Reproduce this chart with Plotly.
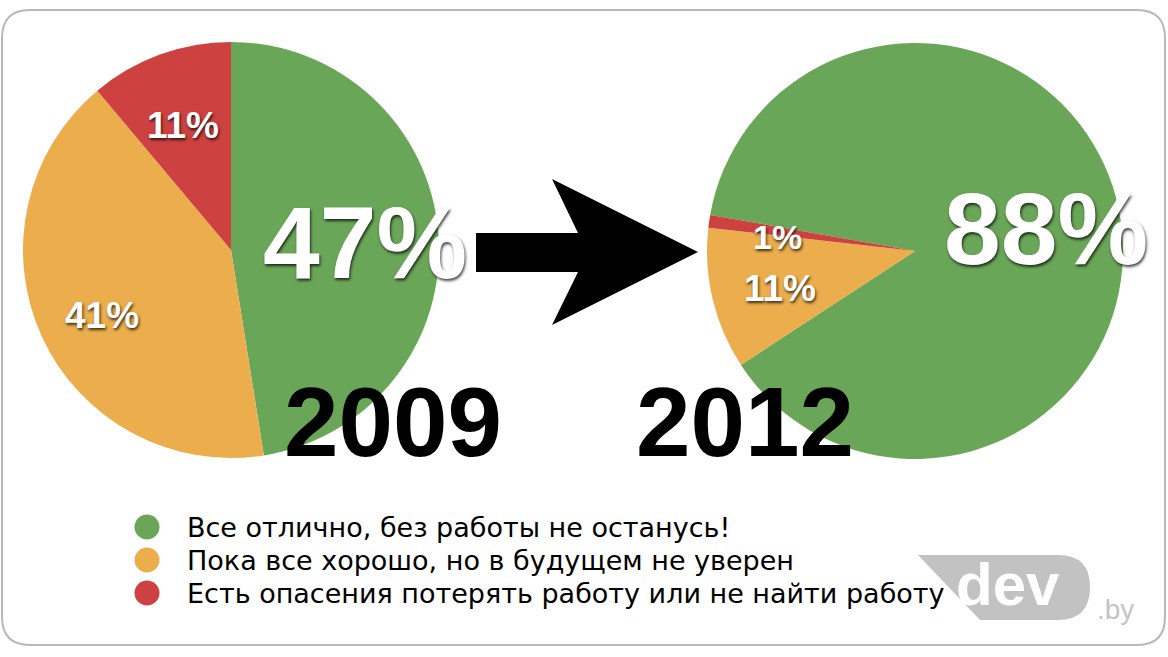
import plotly.graph_objects as go

# Data
categories = [
    "Все отлично, без работы не останусь!",
    "Пока все хорошо, но в будущем не уверен",
    "Есть опасения потерять работу или не найти работу",
]
years = ["2009", "2012"]
share_2009 = [47, 41, 11]
share_2012 = [88, 11, 1]
colors = ["#6aa658", "#ecae4d", "#cd4240"]

W, H = 1168, 657

fig = go.Figure()

# pies (domain in paper coords)
fig.add_trace(go.Pie(
    labels=categories, values=share_2009, sort=False, direction="clockwise",
    rotation=0, marker=dict(colors=colors), textinfo="none",
    showlegend=False, hoverinfo="label+percent",
    domain=dict(x=[23 / W, 439 / W], y=[(H - 458) / H, (H - 42) / H]),
))
fig.add_trace(go.Pie(
    labels=categories, values=share_2012, sort=False, direction="clockwise",
    rotation=-80, marker=dict(colors=colors), textinfo="none",
    showlegend=False, hoverinfo="label+percent",
    domain=dict(x=[707 / W, 1123 / W], y=[(H - 459) / H, (H - 43) / H]),
))

# legend rows (drawn by hand so the spacing matches)
legend_x, legend_text_x = 147, 185
legend_rows = [527, 560, 593]
fig.add_trace(go.Scatter(
    x=[legend_x] * len(categories), y=legend_rows, mode="markers",
    marker=dict(color=colors, size=25), showlegend=False, hoverinfo="skip",
))

# label positions / sizes per slice (pixel coords)
label_pos_2009 = [(365, 243, 102), (102, 315, 37), (183, 125, 37)]
label_pos_2012 = [(1046, 229, 102), (780, 288, 37), (777, 237, 34)]

shadow = "1px 2px 3px rgba(0,0,0,0.75)"
annotations = []
for vals, pos in [(share_2009, label_pos_2009), (share_2012, label_pos_2012)]:
    for v, (x, y, s) in zip(vals, pos):
        annotations.append(dict(
            x=x, y=y, xref="x", yref="y", text=f"{v}%", showarrow=False,
            font=dict(family="Liberation Sans, Arial", size=s, color="white",
                      weight="bold", shadow=shadow),
        ))

for name, y in zip(categories, legend_rows):
    annotations.append(dict(
        x=legend_text_x, y=y, xref="x", yref="y", text=name, showarrow=False,
        xanchor="left", yanchor="middle",
        font=dict(family="DejaVu Sans", size=27, color="black"),
    ))

# year captions
for yr, x in zip(years, [393, 745]):
    annotations.append(dict(
        x=x, y=422, xref="x", yref="y", text=yr, showarrow=False,
        font=dict(family="Liberation Sans, Arial", size=98, color="black",
                  weight="bold"),
    ))

# dev.by mark
annotations.append(dict(
    x=1008, y=584, xref="x", yref="y", text="dev", showarrow=False,
    font=dict(family="Liberation Sans, Arial", size=60, color="white", weight="bold"),
))
annotations.append(dict(
    x=1115, y=609, xref="x", yref="y", text=".by", showarrow=False,
    font=dict(family="Liberation Sans, Arial", size=28, color="#c4c4c4"),
))

shapes = [
    # rounded frame
    dict(type="path", xref="x", yref="y", layer="below",
         path="M 30,10 L 1137,10 Q 1165,10 1165,38 L 1165,617 Q 1165,645 1137,645 "
              "L 30,645 Q 2,645 2,617 L 2,38 Q 2,10 30,10 Z",
         line=dict(color="#b8b8b8", width=2), fillcolor="white"),
    # arrow
    dict(type="path", xref="x", yref="y", layer="above",
         path="M 476,233 L 578,233 L 552,179 L 698,252 L 552,325 L 578,272 L 476,272 Z",
         line=dict(width=0), fillcolor="black"),
    # logo plate
    dict(type="path", xref="x", yref="y", layer="below",
         path="M 918,555 L 1058,555 Q 1090,555 1090,587 Q 1090,620 1058,620 L 980,620 Z",
         line=dict(width=0), fillcolor="#c2c2c2"),
]

fig.update_layout(
    width=W, height=H,
    margin=dict(l=0, r=0, t=0, b=0),
    paper_bgcolor="white", plot_bgcolor="rgba(0,0,0,0)",
    xaxis=dict(range=[0, W], visible=False, fixedrange=True),
    yaxis=dict(range=[H, 0], visible=False, fixedrange=True),
    shapes=shapes, annotations=annotations,
    showlegend=False,
)

fig.write_html("out.html", config={"displayModeBar": False},
               post_script="document.body.style.margin='0';")
